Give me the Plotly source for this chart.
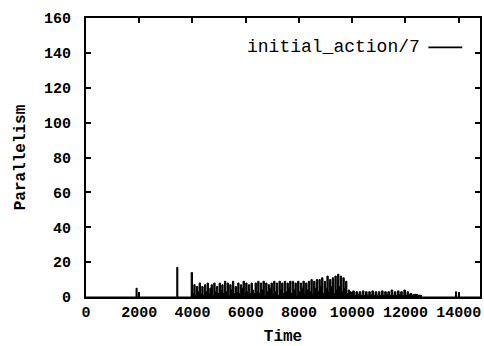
import plotly.graph_objects as go

# ---- data ----
sparse_before_t = [0, 1880, 1920, 3410, 3450]
sparse_before_v = [0, 5, 0, 17, 0]

dense_t = list(range(3900, 9900, 50))
dense_v = [0, 14, 2, 7, 1, 6, 3, 8, 2, 6, 1, 7,
           3, 8, 2, 5, 7, 1, 8, 3, 6, 2, 8, 4,
           7, 2, 9, 3, 8, 1, 7, 4, 9, 2, 6, 3,
           8, 2, 7, 5, 9, 1, 8, 3, 7, 2, 8, 4,
           2, 8, 3, 9, 2, 8, 4, 9, 1, 8, 3, 7,
           5, 8, 2, 9, 3, 8, 1, 9, 4, 8, 2, 9,
           3, 8, 5, 9, 2, 9, 4, 8, 1, 9, 3, 8,
           5, 9, 2, 8, 4, 9, 3, 10, 2, 9, 5, 10,
           3, 10, 6, 11, 2, 9, 5, 12, 3, 10, 6, 11,
           2, 12, 4, 13, 6, 12, 3, 11, 5, 9, 2, 4]

comb_t = list(range(9900, 12300, 60))
comb_v = [3, 1, 3.5, 1, 3, 1.5, 3, 1, 3.5, 1, 3, 1, 3, 1.5, 3.5, 1, 3, 1, 3, 1,
          3.5, 1, 3, 1.5, 3, 1, 4, 1, 3, 1, 3.5, 1.5, 3, 1, 4, 1, 3, 1.5, 2, 1]

tail_t = [12300, 12450, 12600, 13880, 13920, 14800]
tail_v = [1.5, 1, 0, 3, 0, 0]

time = sparse_before_t + dense_t + comb_t + tail_t
parallelism = sparse_before_v + dense_v + comb_v + tail_v

x_ticks = [0, 2000, 4000, 6000, 8000, 10000, 12000, 14000]
y_ticks = [0, 20, 40, 60, 80, 100, 120, 140, 160]
series_name = "initial_action/7"

FONT = "Liberation Mono, Courier New, monospace"

fig = go.Figure()
fig.add_trace(go.Scatter(x=time, y=parallelism, mode="lines", line_shape="hv",
                         line=dict(color="black", width=1), fill="tozeroy",
                         fillcolor="black", name=series_name, showlegend=False))

axis_common = dict(showline=True, linecolor="black", linewidth=1.8, mirror="ticks",
                   ticks="inside", ticklen=5, tickwidth=1.8, tickcolor="black",
                   showgrid=False, zeroline=False,
                   tickfont=dict(family=FONT, size=15, color="black", weight="bold"))

fig.update_xaxes(range=[0, 14800], tickvals=x_ticks, ticktext=[str(v) for v in x_ticks],
                 title=dict(text="Time", font=dict(family=FONT, size=16, color="black", weight="bold"),
                            standoff=11),
                 ticklabelstandoff=0, **axis_common)
fig.update_yaxes(range=[0, 160], tickvals=y_ticks, ticktext=[str(v) for v in y_ticks],
                 title=dict(text="Parallelism", font=dict(family=FONT, size=16, color="black", weight="bold"),
                            standoff=14),
                 ticklabelstandoff=10, **axis_common)

# gnuplot-style key: text then line sample
fig.add_annotation(xref="paper", yref="paper", x=0.853, y=0.895, xanchor="right", yanchor="middle",
                   text=series_name, showarrow=False,
                   font=dict(family=FONT, size=18, color="black"))
fig.add_shape(type="line", xref="paper", yref="paper", x0=0.869, x1=0.955, y0=0.895, y1=0.895,
              line=dict(color="black", width=1.8))

fig.update_layout(width=484, height=346, margin=dict(l=86, r=2, t=18, b=48),
                  paper_bgcolor="white", plot_bgcolor="white")

fig.write_html("out.html")
